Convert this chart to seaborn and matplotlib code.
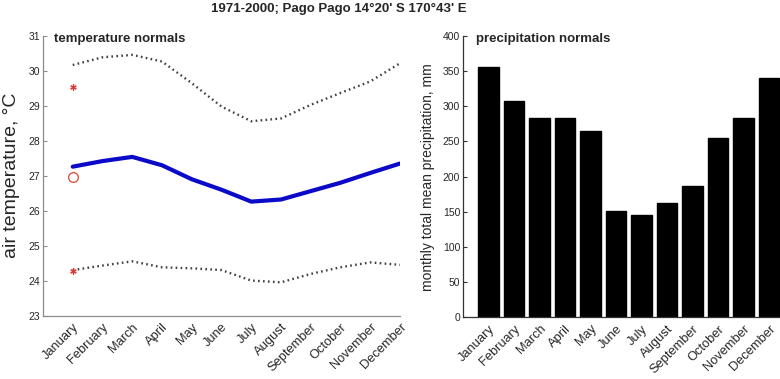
import numpy as np
import pandas as pd
import matplotlib
matplotlib.use("Agg")
import matplotlib.pyplot as plt
import seaborn as sns

months = ["January", "February", "March", "April", "May", "June", "July",
          "August", "September", "October", "November", "December"]
month_num = [1, 2, 3, 4, 5, 6, 7, 8, 9, 10, 11, 12]
t_mean = [27.26, 27.42, 27.54, 27.30, 26.90, 26.60, 26.26, 26.32, 26.56, 26.80, 27.08, 27.35]
t_max = [30.17, 30.39, 30.46, 30.27, 29.65, 28.98, 28.56, 28.64, 29.03, 29.37, 29.70, 30.22]
t_min = [24.30, 24.43, 24.55, 24.38, 24.35, 24.30, 24.00, 23.95, 24.19, 24.38, 24.52, 24.45]
rec_high = 29.55
rec_mean = 26.97
rec_low = 24.28
precip = [356, 308, 283, 283, 265, 151, 146, 163, 187, 255, 283, 340]

sns.set_theme(style="white")
plt.rcParams['font.family'] = ['Liberation Sans', 'DejaVu Sans']

fig = plt.figure(figsize=(7.8, 3.79), dpi=100)
W, H = 780, 379

def axpos(x0, y_top, x1, y_bot):
    return [x0 / W, 1 - y_bot / H, (x1 - x0) / W, (y_bot - y_top) / H]

ax1 = fig.add_axes(axpos(43, 36, 400, 315.5))
ax2 = fig.add_axes(axpos(463, 36, 794.5, 317.3))

df_t = pd.DataFrame({"month": month_num, "mean": t_mean, "max": t_max, "min": t_min})

sns.lineplot(data=df_t, x="month", y="max", ax=ax1, color="#404040",
             linewidth=1.7, linestyle=(0, (0.7, 1.4)))
sns.lineplot(data=df_t, x="month", y="min", ax=ax1, color="#404040",
             linewidth=1.7, linestyle=(0, (0.7, 1.4)))
sns.lineplot(data=df_t, x="month", y="mean", ax=ax1, color="#0a0ac8",
             linewidth=3.0)
ax1.plot([1], [rec_high], marker=(6, 2, 0), color="#e03838", markersize=4.5,
         markeredgewidth=0.9, linestyle="none")
ax1.plot([1], [rec_low], marker=(6, 2, 0), color="#e03838", markersize=4.5,
         markeredgewidth=0.9, linestyle="none")
ax1.plot([1], [rec_mean], marker="o", markerfacecolor="none",
         markeredgecolor="#d84a30", markersize=7, markeredgewidth=0.9,
         linestyle="none")

ax1.set_xlim(0, 12)
ax1.set_ylim(23, 31)
ax1.set_yticks(np.arange(23, 32, 1))
ax1.set_xticks(month_num)
ax1.set_xticklabels(months, rotation=45, ha="right", rotation_mode="anchor",
                    fontsize=9.3)
ax1.set_xticks([2, 4, 6, 8, 10, 12], minor=True)
ax1.tick_params(axis="x", which="major", length=0, pad=4)
ax1.tick_params(axis="x", which="minor", direction="in", length=3,
                color="#8c8c8c", width=0.8)
ax1.tick_params(axis="y", direction="in", length=3, color="#8c8c8c",
                width=0.8, labelsize=7.5, pad=2, left=True)
ax1.set_xlabel("")
ax1.set_ylabel("air temperature, °C", fontsize=14, labelpad=6)
for s in ["top", "right"]:
    ax1.spines[s].set_visible(False)
for s in ["left", "bottom"]:
    ax1.spines[s].set_color("#8c8c8c")
    ax1.spines[s].set_linewidth(0.9)

df_p = pd.DataFrame({"month": months, "precip": precip})
sns.barplot(data=df_p, x="month", y="precip", ax=ax2, color="black",
            width=0.82, saturation=1, edgecolor="black")
ax2.set_xlim(-1, 12)
ax2.set_ylim(0, 400)
ax2.set_yticks(np.arange(0, 401, 50))
ax2.set_xticks(range(12))
ax2.set_xticklabels(months, rotation=45, ha="right", rotation_mode="anchor",
                    fontsize=9.3)
ax2.tick_params(axis="x", length=0, pad=4)
ax2.tick_params(axis="y", direction="in", length=3, color="#333333",
                width=0.8, labelsize=7.5, pad=2, left=True)
ax2.set_xlabel("")
ax2.set_ylabel("monthly total mean precipitation, mm", fontsize=10, labelpad=6)
for s in ["top", "right"]:
    ax2.spines[s].set_visible(False)
for s in ["left", "bottom"]:
    ax2.spines[s].set_color("#333333")
    ax2.spines[s].set_linewidth(0.9)

fig.text(339 / W, 1 - 3 / H, "1971-2000; Pago Pago 14°20' S 170°43' E",
         ha="center", va="top", fontsize=9.5, fontweight="bold")
fig.text(54 / W, 1 - 33 / H, "temperature normals", ha="left", va="top",
         fontsize=9.5, fontweight="bold")
fig.text(476 / W, 1 - 33 / H, "precipitation normals", ha="left", va="top",
         fontsize=9.5, fontweight="bold")

fig.savefig("out.png", dpi=100)
